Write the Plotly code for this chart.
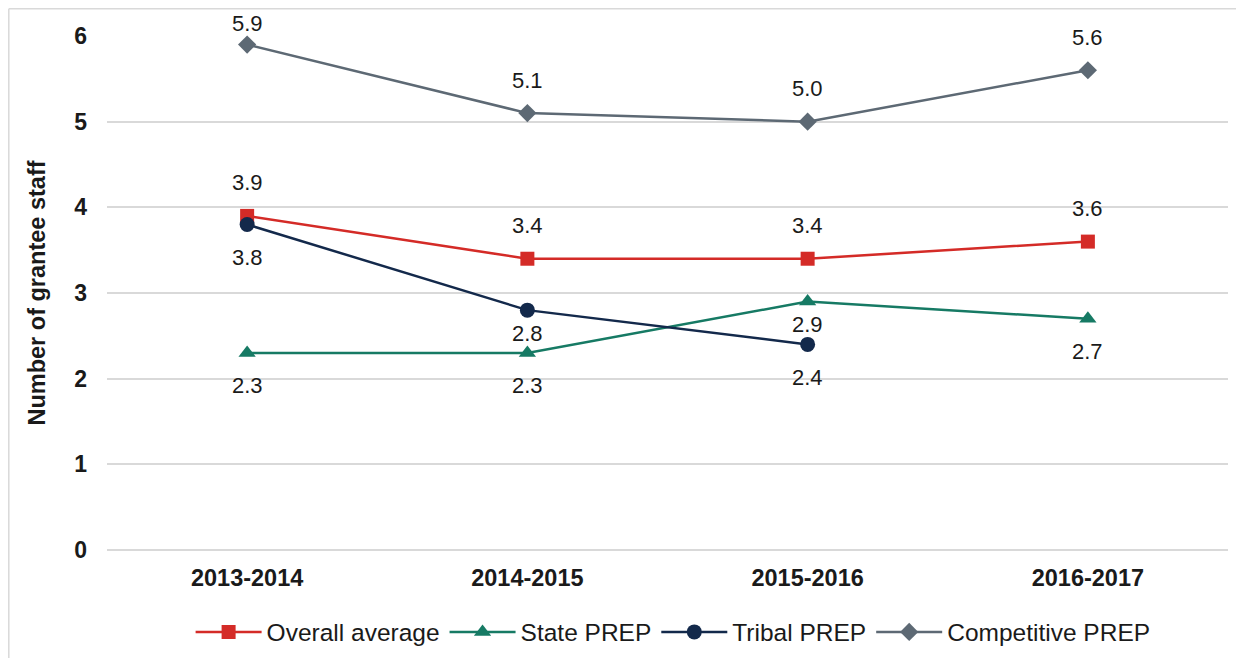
import plotly.graph_objects as go

years = ["2013-2014", "2014-2015", "2015-2016", "2016-2017"]
overall = [3.9, 3.4, 3.4, 3.6]
state = [2.3, 2.3, 2.9, 2.7]
tribal = [3.8, 2.8, 2.4, None]
competitive = [5.9, 5.1, 5.0, 5.6]

# style: (name, values, colour, symbol, marker size, label shifts in px per point)
series = [
    ("Overall average", overall, "#d42b27", "square", 14, [33, 33, 33, 33]),
    ("State PREP", state, "#167a64", "triangle-up", 15, [-33, -33, -23, -33]),
    ("Tribal PREP", tribal, "#13294b", "circle", 15, [-33, -23, -33, -33]),
    ("Competitive PREP", competitive, "#5d6974", "diamond", 14, [21, 33, 33, 33]),
]

FONT = "Liberation Sans, Arial, sans-serif"
TXT = "#1a1a1a"

fig = go.Figure()
annotations = []
for name, vals, color, sym, size, shifts in series:
    fig.add_trace(go.Scatter(
        x=years, y=vals, name=name, mode="lines+markers",
        line=dict(color=color, width=2.5),
        marker=dict(symbol=sym, size=size, color=color),
        cliponaxis=False,
    ))
    for xv, yv, sh in zip(years, vals, shifts):
        if yv is None:
            continue
        annotations.append(dict(
            x=xv, y=yv, xref="x", yref="y", text=f"{yv:.1f}",
            showarrow=False, yshift=sh, borderpad=0,
            font=dict(family=FONT, size=22, color=TXT),
        ))

fig.update_layout(
    width=1244, height=658,
    paper_bgcolor="white", plot_bgcolor="white",
    margin=dict(l=99, r=24, t=28, b=116, autoexpand=False),
    annotations=annotations,
    showlegend=True,
    legend=dict(orientation="h", x=0.505, xanchor="center", y=-0.1595, yanchor="middle",
                font=dict(family=FONT, size=24.5, color=TXT),
                itemwidth=66, tracegroupgap=0),
    font=dict(family=FONT, color=TXT),
    shapes=[
        dict(type="line", xref="paper", yref="paper", x0=-0.0876, x1=1.03, y0=1.053, y1=1.053,
             line=dict(color="#d9d9d9", width=1.5)),
        dict(type="line", xref="paper", yref="paper", x0=-0.0876, x1=-0.0876, y0=1.053, y1=-0.23,
             line=dict(color="#d9d9d9", width=1.5)),
    ],
)
fig.update_xaxes(
    range=[-0.5, 3.5], showgrid=False, zeroline=False, showline=False, ticks="",
    automargin=False,
    tickfont=dict(family=FONT, size=23.5, color=TXT, weight="bold"),
    ticklabelstandoff=11,
)
fig.update_yaxes(
    range=[0, 6], dtick=1, showgrid=True, gridcolor="#d9d9d9", gridwidth=1.5,
    zeroline=True, zerolinecolor="#d9d9d9", zerolinewidth=1.5, showline=False, ticks="",
    automargin=False,
    tickfont=dict(family=FONT, size=23, color=TXT, weight="bold"),
    ticklabelstandoff=19,
    title=dict(text="Number of grantee staff", standoff=21,
               font=dict(family=FONT, size=23.5, color=TXT, weight="bold")),
)

fig.write_html("out.html")
